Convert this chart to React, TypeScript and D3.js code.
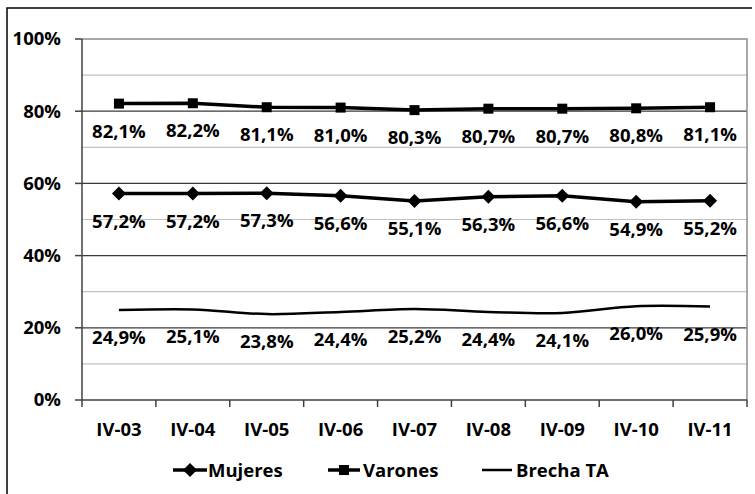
import React from "react";
import * as d3 from "d3";

const categories = ["IV-03", "IV-04", "IV-05", "IV-06", "IV-07", "IV-08", "IV-09", "IV-10", "IV-11"];
const mujeres = [57.2, 57.2, 57.3, 56.6, 55.1, 56.3, 56.6, 54.9, 55.2];
const varones = [82.1, 82.2, 81.1, 81.0, 80.3, 80.7, 80.7, 80.8, 81.1];
const brecha = [24.9, 25.1, 23.8, 24.4, 25.2, 24.4, 24.1, 26.0, 25.9];
const yMajorTicks = [0, 20, 40, 60, 80, 100];
const yMinorTicks = [10, 30, 50, 70, 90];

const W = 755;
const H = 494;
const FONT = "'Open Sans', sans-serif";

export default function App() {
  const x = d3.scaleBand<string>().domain(categories).range([82, 747]).padding(0);
  const y = d3.scaleLinear().domain([0, 100]).range([400, 39]);
  const cx = (c: string) => (x(c) as number) + x.bandwidth() / 2;

  const straight = d3
    .line<number>()
    .x((_, i) => cx(categories[i]))
    .y((d) => y(d));
  const smooth = d3
    .line<number>()
    .x((_, i) => cx(categories[i]))
    .y((d) => y(d))
    .curve(d3.curveCatmullRom.alpha(0.5));

  const fmt = (v: number) => v.toFixed(1).replace(".", ",") + "%";
  const boundaries = [...categories.map((c) => x(c) as number), 747];

  const diamond = (px: number, py: number, r: number) =>
    `M${px},${py - r}L${px + r},${py}L${px},${py + r}L${px - r},${py}Z`;

  const labelSeries = [varones, mujeres, brecha];

  return (
    <svg width={W} height={H} style={{ position: "absolute", left: 0, top: 0, background: "#fff" }}>
      <rect x={0} y={0} width={W} height={H} fill="#fff" />
      {/* outer chart border */}
      <path d="M7,494V8H752" fill="none" stroke="#000" strokeWidth={1.5} />

      {/* minor gridlines */}
      {yMinorTicks.map((t) => (
        <line key={"mi" + t} x1={82} x2={747} y1={y(t)} y2={y(t)} stroke="#c0c0c0" strokeWidth={1.2} />
      ))}
      {/* major gridlines */}
      {yMajorTicks
        .filter((t) => t > 0 && t < 100)
        .map((t) => (
          <line key={"ma" + t} x1={82} x2={747} y1={y(t)} y2={y(t)} stroke="#3a3a3a" strokeWidth={1.2} />
        ))}
      {/* plot area top & right border */}
      <path d={`M82,${y(100)}H747V${y(0)}`} fill="none" stroke="#8c8c8c" strokeWidth={1.5} />

      {/* y axis */}
      <line x1={82} x2={82} y1={y(100)} y2={y(0)} stroke="#404040" strokeWidth={1.5} />
      {yMajorTicks.map((t) => (
        <g key={"yt" + t}>
          <line x1={75} x2={82} y1={y(t)} y2={y(t)} stroke="#404040" strokeWidth={1.5} />
          <text
            x={61}
            y={y(t)}
            dy="0.35em"
            textAnchor="end"
            fontFamily={FONT}
            fontWeight={700}
            fontSize={18.5}
            fill="#000"
          >
            {t + "%"}
          </text>
        </g>
      ))}

      {/* x axis */}
      <line x1={82} x2={747} y1={y(0)} y2={y(0)} stroke="#404040" strokeWidth={1.5} />
      {boundaries.map((b, i) => (
        <line key={"xt" + i} x1={b} x2={b} y1={y(0)} y2={y(0) + 7} stroke="#404040" strokeWidth={1.5} />
      ))}
      {categories.map((c) => (
        <text
          key={"xl" + c}
          x={cx(c)}
          y={436}
          textAnchor="middle"
          fontFamily={FONT}
          fontWeight={700}
          fontSize={18.5}
          fill="#000"
        >
          {c}
        </text>
      ))}

      {/* series */}
      <path d={smooth(brecha) || ""} fill="none" stroke="#000" strokeWidth={2.5} />
      <path d={straight(mujeres) || ""} fill="none" stroke="#000" strokeWidth={3.5} />
      <path d={straight(varones) || ""} fill="none" stroke="#000" strokeWidth={3.5} />
      {mujeres.map((v, i) => (
        <path key={"mm" + i} d={diamond(cx(categories[i]), y(v), 7)} fill="#000" />
      ))}
      {varones.map((v, i) => (
        <rect key={"vm" + i} x={cx(categories[i]) - 5} y={y(v) - 5} width={10} height={10} fill="#000" />
      ))}

      {/* data labels */}
      {labelSeries.map((s, si) =>
        s.map((v, i) => (
          <text
            key={"dl" + si + "-" + i}
            x={cx(categories[i])}
            y={y(v) + 34}
            textAnchor="middle"
            fontFamily={FONT}
            fontWeight={700}
            fontSize={18.5}
            fill="#000"
          >
            {fmt(v)}
          </text>
        ))
      )}

      {/* legend */}
      <g fontFamily={FONT} fontWeight={700} fontSize={18.5} fill="#000">
        <line x1={173} x2={207} y1={470} y2={470} stroke="#000" strokeWidth={3.5} />
        <path d={diamond(190, 470, 7)} fill="#000" />
        <text x={208} y={477}>Mujeres</text>

        <line x1={328} x2={360} y1={470} y2={470} stroke="#000" strokeWidth={3.5} />
        <rect x={339} y={465} width={10} height={10} fill="#000" />
        <text x={363} y={477}>Varones</text>

        <line x1={482} x2={512} y1={470} y2={470} stroke="#000" strokeWidth={2.5} />
        <text x={516} y={477}>Brecha TA</text>
      </g>
    </svg>
  );
}
